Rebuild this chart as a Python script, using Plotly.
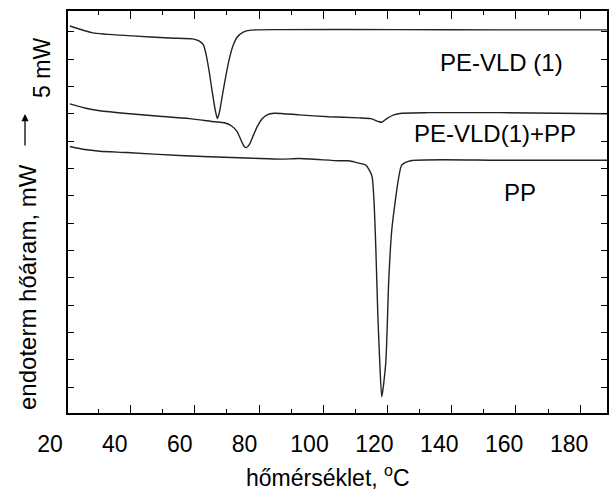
import plotly.graph_objects as go

# ---- data ----
temp_pe = [26.14, 33.21, 45.49, 56.86, 63.92, 66.07, 67.30, 68.22, 69.14, 70.06, 70.98, 71.60,
           72.21, 73.13, 74.05, 75.28, 76.51, 77.74, 79.58, 82.04, 90.64, 127.50, 158.21, 191.68]
heat_pe = [14.21, 13.96, 13.85, 13.77, 13.74, 13.66, 13.52, 13.12, 12.50, 11.77, 11.11, 10.82,
           11.04, 11.66, 12.28, 13.01, 13.52, 13.81, 13.99, 14.06, 14.08, 14.08, 14.07, 14.07]

temp_blend = [26.14, 30.75, 35.36, 44.57, 53.78, 63.00, 70.68, 73.75, 75.90, 77.74, 78.97, 79.89,
              80.50, 81.43, 82.65, 83.88, 85.42, 86.95, 89.10, 96.78, 106.00, 115.21, 118.89,
              121.35, 122.27, 123.81, 125.96, 128.41, 136.70, 158.21, 191.68]
heat_blend = [11.36, 11.21, 11.11, 11.00, 10.91, 10.82, 10.71, 10.67, 10.56, 10.34, 10.01, 9.80,
              9.76, 9.87, 10.20, 10.53, 10.82, 10.96, 11.02, 10.96, 10.89, 10.85, 10.82,
              10.71, 10.69, 10.82, 10.96, 11.02, 11.04, 11.04, 11.00]

temp_pp = [26.14, 30.75, 35.36, 43.65, 59.93, 78.35, 91.56, 96.78, 109.07, 112.14, 114.29, 117.36,
           119.20, 119.82, 120.43, 121.04, 121.66, 122.27, 123.50, 124.42, 125.34, 126.57, 127.50,
           128.41, 131.18, 158.21, 191.68]
heat_pp = [9.80, 9.69, 9.63, 9.58, 9.47, 9.39, 9.34, 9.36, 9.28, 9.28, 9.22, 9.12,
           8.74, 7.93, 6.11, 3.70, 1.88, 0.64, 1.88, 4.91, 6.73, 7.93, 8.67,
           9.12, 9.28, 9.30, 9.30]

tick_values = [20, 40, 60, 80, 100, 120, 140, 160, 180]
tick_labels = ["20", "40", "60", "80", "100", "120", "140", "160", "180"]

curve_names = ["PE-VLD (1)", "PE-VLD(1)+PP", "PP"]
label_x = [159.1, 157.3, 165.0]
label_y = [12.86, 10.27, 8.12]

FONT = "Liberation Sans, Arial, sans-serif"
W, H = 610, 494
ML, MR, MT, MB = 30, 1, 11, 81
PLOT_W = W - ML - MR
PLOT_H = H - MT - MB


def px(xpix):
    return (xpix - ML) / PLOT_W


def py(ypix):
    return (H - MB - ypix) / PLOT_H


fig = go.Figure()

# invisible trace for the label axis (added first so it sits underneath)
fig.add_trace(go.Scatter(x=[tick_values[0]], y=[None], xaxis="x2", yaxis="y",
                         showlegend=False, hoverinfo="skip"))

for t, h in [(temp_pe, heat_pe), (temp_blend, heat_blend), (temp_pp, heat_pp)]:
    fig.add_trace(go.Scatter(x=t, y=h, mode="lines", xaxis="x", yaxis="y",
                             line=dict(color="#222222", width=1.4, shape="spline", smoothing=0.6),
                             showlegend=False, hoverinfo="skip"))

for name, lx, ly in zip(curve_names, label_x, label_y):
    fig.add_annotation(x=lx, y=ly, text=name, showarrow=False, xref="x", yref="y",
                       xanchor="center", yanchor="middle",
                       font=dict(family=FONT, size=24, color="black"))

# axis titles
fig.add_annotation(x=px(329), y=py(476), xref="paper", yref="paper", text="hőmérséklet, <sup>o</sup>C",
                   showarrow=False, xanchor="center", yanchor="middle",
                   font=dict(family=FONT, size=23, color="black"))
fig.add_annotation(x=px(27), y=py(287), xref="paper", yref="paper", text="endoterm hőáram, mW",
                   textangle=-90, showarrow=False, xanchor="center", yanchor="middle",
                   font=dict(family=FONT, size=24, color="black"))
fig.add_annotation(x=px(42), y=py(68), xref="paper", yref="paper", text="5 mW",
                   textangle=-90, showarrow=False, xanchor="center", yanchor="middle",
                   font=dict(family=FONT, size=23, color="black"))
fig.add_annotation(x=px(25), y=py(114), xref="paper", yref="paper", text="", showarrow=True,
                   ax=0, ay=33, arrowhead=2, arrowsize=1.1, arrowwidth=1.3, arrowcolor="black")

x0 = 20 + (68 - 50) / 3.256
x1 = 20 + (609 - 50) / 3.256
x2_0 = 20 + (ML - 50) / 3.256

fig.update_layout(
    width=W, height=H,
    margin=dict(l=ML, r=MR, t=MT, b=MB),
    paper_bgcolor="white", plot_bgcolor="rgba(0,0,0,0)",
    xaxis=dict(domain=[px(68), 1], range=[x0, x1], showline=True, linecolor="black", linewidth=1.6,
               mirror="ticks", ticks="inside", ticklen=8, tickwidth=1.2, tickcolor="black",
               tickmode="linear", tick0=44.88, dtick=19.79, showticklabels=False,
               showgrid=False, zeroline=False,
               minor=dict(ticks="inside", ticklen=4, tickwidth=1.2, tickcolor="black",
                          tickmode="linear", tick0=44.88 - 9.895, dtick=9.895, showgrid=False)),
    xaxis2=dict(domain=[0, 1], range=[x2_0, x1], side="bottom", anchor="y",
                showline=False, showgrid=False, zeroline=False,
                tickmode="array", tickvals=tick_values, ticktext=tick_labels,
                ticks="outside", ticklen=10, tickcolor="rgba(0,0,0,0)",
                tickfont=dict(family=FONT, size=23, color="black")),
    yaxis=dict(range=[0.05, 14.76], showline=True, linecolor="black", linewidth=1.6, mirror="ticks",
               ticks="inside", ticklen=6, tickwidth=1.2, tickcolor="black",
               tickmode="linear", tick0=0, dtick=1, showticklabels=False,
               showgrid=False, zeroline=False),
)

fig.write_html("out.html")
